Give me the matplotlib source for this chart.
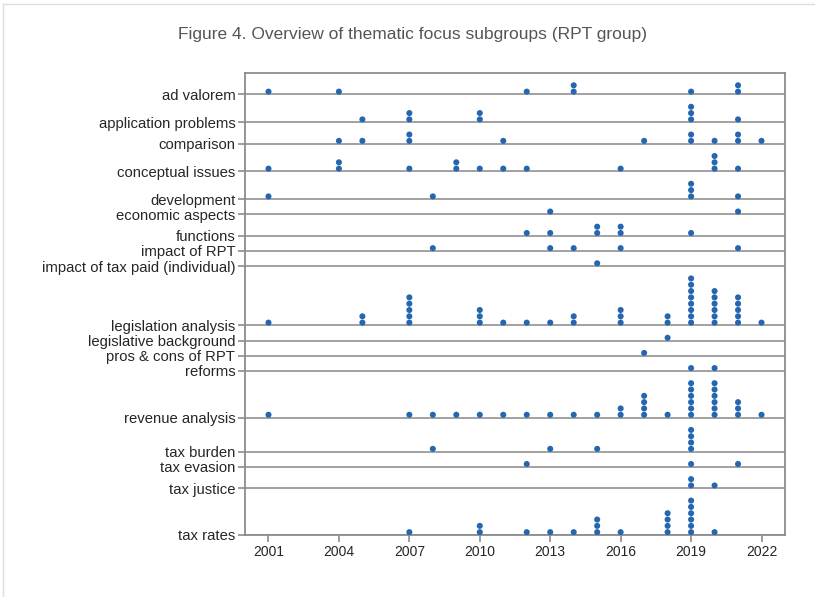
import matplotlib.pyplot as plt
from matplotlib.lines import Line2D

# subgroups, top to bottom
categories = ["ad valorem", "application problems", "comparison", "conceptual issues",
              "development", "economic aspects", "functions", "impact of RPT",
              "impact of tax paid (individual)", "legislation analysis",
              "legislative background", "pros & cons of RPT", "reforms",
              "revenue analysis", "tax burden", "tax evasion", "tax justice", "tax rates"]

# publication years per subgroup and number of papers in each year
years = [
    [2001, 2004, 2012, 2014, 2019, 2021],
    [2005, 2007, 2010, 2019, 2021],
    [2004, 2005, 2007, 2011, 2017, 2019, 2020, 2021, 2022],
    [2001, 2004, 2007, 2009, 2010, 2011, 2012, 2016, 2020, 2021],
    [2001, 2008, 2019, 2021],
    [2013, 2021],
    [2012, 2013, 2015, 2016, 2019],
    [2008, 2013, 2014, 2016, 2021],
    [2015],
    [2001, 2005, 2007, 2010, 2011, 2012, 2013, 2014, 2016, 2018, 2019, 2020, 2021, 2022],
    [2018],
    [2017],
    [2019, 2020],
    [2001, 2007, 2008, 2009, 2010, 2011, 2012, 2013, 2014, 2015, 2016, 2017, 2018, 2019, 2020, 2021, 2022],
    [2008, 2013, 2015, 2019],
    [2012, 2019, 2021],
    [2019, 2020],
    [2007, 2010, 2012, 2013, 2014, 2015, 2016, 2018, 2019, 2020],
]
counts = [
    [1, 1, 1, 2, 1, 2],
    [1, 2, 2, 3, 1],
    [1, 1, 2, 1, 1, 2, 1, 2, 1],
    [1, 2, 1, 2, 1, 1, 1, 1, 3, 1],
    [1, 1, 3, 1],
    [1, 1],
    [1, 1, 2, 2, 1],
    [1, 1, 1, 1, 1],
    [1],
    [1, 2, 5, 3, 1, 1, 1, 2, 3, 2, 8, 6, 5, 1],
    [1],
    [1],
    [1, 1],
    [1, 1, 1, 1, 1, 1, 1, 1, 1, 1, 2, 4, 1, 6, 6, 3, 1],
    [1, 1, 1, 4],
    [1, 1, 1],
    [2, 1],
    [1, 2, 1, 1, 1, 3, 1, 4, 6, 1],
]
xticks = [2001, 2004, 2007, 2010, 2013, 2016, 2019, 2022]

plt.rcParams['font.family'] = ['Liberation Sans', 'DejaVu Sans']

pad = 1.4
heights = [max(c) + pad for c in counts]

# baseline of each row, stacking upwards from the bottom row
baselines = []
y = 0
for h in reversed(heights):
    baselines.insert(0, y)
    y += h
total = y

fig = plt.figure(figsize=(8.15, 5.97), dpi=100)
ax = fig.add_axes([245 / 815, 62 / 597, 540 / 815, 462 / 597])

grey = '#8c8c8c'
ax.hlines(baselines, 2000, 2023, color='#9a9a9a', lw=1.3, zorder=1)

for base, yrs, cnt in zip(baselines, years, counts):
    xs, ys = [], []
    for yr, n in zip(yrs, cnt):
        for k in range(n):
            xs.append(yr)
            ys.append(base + 0.45 + k)
    ax.scatter(xs, ys, s=19, color='#2466b0', edgecolors='none', zorder=3)

ax.set_xlim(2000, 2023)
ax.set_ylim(0, total)
ax.set_xticks(xticks)
ax.set_yticks(baselines, categories)
ax.tick_params(direction='out', length=5, width=1.2, color=grey,
               labelcolor='#262626', labelsize=10, pad=2)
ax.tick_params(axis='y', labelsize=10.7)
for s in ax.spines.values():
    s.set_color(grey)
    s.set_linewidth(1.3)

fig.text(413 / 815, 1 - 34 / 597, 'Figure 4. Overview of thematic focus subgroups (RPT group)',
         ha='center', va='center', fontsize=12.5, color='#555555')

# thin outer frame
fig.add_artist(Line2D([3 / 815, 1], [1 - 4 / 597, 1 - 4 / 597], color='#dddddd', lw=1))
fig.add_artist(Line2D([3 / 815, 3 / 815], [0, 1 - 4 / 597], color='#dddddd', lw=1))

fig.savefig('out.png', dpi=100)
